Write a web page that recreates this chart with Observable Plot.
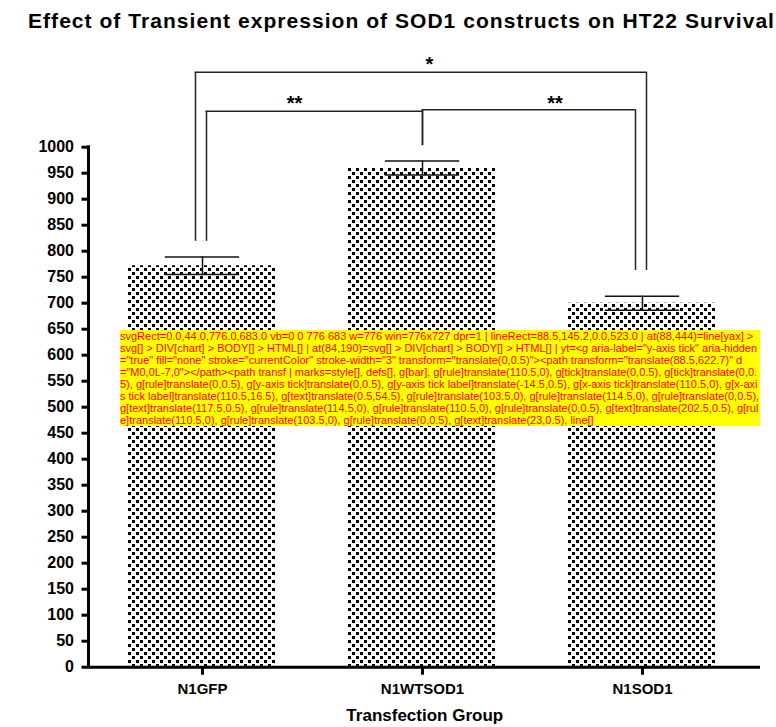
<!DOCTYPE html>
<html><head><meta charset="utf-8">
<script src="https://cdn.jsdelivr.net/npm/d3@7"></script>
<script src="https://cdn.jsdelivr.net/npm/@observablehq/plot@0.6"></script>
<style>
html,body{margin:0;background:#fff;font-family:"Liberation Sans",Arial,sans-serif;overflow:hidden;}
#title{height:44px;position:relative;overflow:hidden;width:776px;}
#title span{position:absolute;left:28px;top:11px;font-weight:bold;font-size:21px;line-height:20px;white-space:nowrap;color:#000;}
#chart{position:relative;}
#chart svg{display:block;max-width:none !important;}
#dbg{position:absolute;left:120px;top:330px;width:640px;font-size:11px;color:red;background:#ff0;word-break:break-all;z-index:10;}
</style></head><body>
<div id="title"><span id="tt">Effect of Transient expression of SOD1 constructs on HT22 Survival</span></div>
<div id="chart"></div>
<div id="dbg"></div>
<script>
const groups = ["N1GFP", "N1WTSOD1", "N1SOD1"];
const means = [772, 960, 700];
const sems = [17, 13.5, 13.5];
const yTicks = d3.range(0, 1001, 50);
const bracketFrom = ["N1GFP", "N1GFP", "N1WTSOD1"];
const bracketTo = ["N1SOD1", "N1WTSOD1", "N1SOD1"];
const bracketTop = [1144, 1069, 1072];
const bracketLeftEnd = [819, 819, 1003];
const bracketRightEnd = [763, 1003, 763];
const bracketLabels = ["*", "**", "**"];
const bracketLabelY = [1158, 1084, 1084];
const bracketLabelAt = ["N1WTSOD1", "N1GFP", "N1SOD1"];
const data = groups.map((g, i) => ({group: g, mean: means[i], lo: means[i] - sems[i], hi: means[i] + sems[i]}));
const brackets = bracketFrom.map((f, i) => ({from: f, to: bracketTo[i], top: bracketTop[i], l: bracketLeftEnd[i], r: bracketRightEnd[i], label: bracketLabels[i], ly: bracketLabelY[i], at: bracketLabelAt[i]}));
const tt = document.getElementById("tt");
const tw = tt.getBoundingClientRect().width;
tt.style.letterSpacing = ((747 - tw) / tt.textContent.length) + "px";
const W = 776, H = 683;
const mL = 88.5;
const xRange = [91, 753];
const half = (xRange[1] - xRange[0]) / groups.length / 2;
const legDx = [[-7, 4], [4, 0], [0, -7]];
const labelDx = [7, 92, -87.5];
const font = "'Liberation Sans', Arial, sans-serif";
const marks = [
  () => {
    const defs = d3.create("svg:defs");
    const p = defs.append("pattern").attr("id", "dots").attr("patternUnits", "userSpaceOnUse").attr("width", 8).attr("height", 8);
    p.append("rect").attr("width", 8).attr("height", 8).attr("fill", "#fff");
    p.append("rect").attr("x", 0).attr("y", 0).attr("width", 3).attr("height", 3).attr("fill", "#000");
    p.append("rect").attr("x", 4).attr("y", 4).attr("width", 3).attr("height", 3).attr("fill", "#000");
    return defs.node();
  },
  Plot.barY(data, {x: "group", y: "mean", fill: "url(#dots)", insetLeft: 36, insetRight: 36}),
  Plot.ruleX(data, {x: "group", y1: "lo", y2: "hi", stroke: "#111", strokeWidth: 1.5}),
  Plot.tickY(data, {x: "group", y: "lo", stroke: "#111", strokeWidth: 1.5, insetLeft: half - 37.5, insetRight: half - 37.5}),
  Plot.tickY(data, {x: "group", y: "hi", stroke: "#111", strokeWidth: 1.5, insetLeft: half - 37.5, insetRight: half - 37.5}),
  Plot.ruleY([0], {stroke: "#000", strokeWidth: 3}),
  Plot.axisY({ticks: yTicks, tickSize: 7, tickPadding: 8, strokeWidth: 3, fontSize: 16, fontWeight: "bold", tickFormat: d3.format("d"), label: null, fill: "#000"}),
  Plot.axisX({tickSize: 8, tickPadding: 8, strokeWidth: 3, fontSize: 15, fontWeight: "bold", label: null, fill: "#000"}),
  Plot.text(["Transfection Group"], {frameAnchor: "bottom", dy: 54, fontSize: 17, fontWeight: "bold", fill: "#000"})
];
brackets.forEach((b, i) => {
  const [ldx, rdx] = legDx[i];
  marks.push(
    Plot.ruleX([b], {x: "from", y1: "l", y2: "top", dx: ldx, stroke: "#222", strokeWidth: 1.5}),
    Plot.ruleX([b], {x: "to", y1: "r", y2: "top", dx: rdx, stroke: "#222", strokeWidth: 1.5}),
    Plot.ruleY([b], {x1: "from", x2: "to", y: "top", insetLeft: half + ldx - 0.75, insetRight: half - rdx - 0.75, stroke: "#222", strokeWidth: 1.5}),
    Plot.text([b], {x: "at", y: "ly", text: "label", dx: labelDx[i], fontSize: 20, fontWeight: "bold", fill: "#000"})
  );
});
let msg = "";
try {
const chart = Plot.plot({
  width: W, height: H,
  marginLeft: mL, marginRight: 16, marginTop: 102.7, marginBottom: 60.3,
  style: {fontFamily: font, background: "#fff", color: "#000", overflow: "visible"},
  x: {domain: groups, range: xRange, padding: 0, label: null},
  y: {domain: [0, 1000], label: null},
  marks
});
chart.style.maxWidth = "none";
document.getElementById("chart").appendChild(chart);
const sel = d3.select(chart);
const ys = chart.scale("y");
const yTop = ys.apply(1000) - 1.5, yBot = ys.apply(0) + 1.5;
sel.append("line").attr("id", "yax").attr("x1", mL).attr("x2", mL).attr("y1", yTop).attr("y2", yBot)
  .attr("stroke", "#000").attr("stroke-width", 3);
const r = chart.getBoundingClientRect();
msg += "svgRect=" + [r.x, r.y, r.width, r.height].map(v => v.toFixed(1)).join(",");
msg += " vb=" + chart.getAttribute("viewBox") + " w=" + chart.getAttribute("width");
msg += " win=" + innerWidth + "x" + innerHeight + " dpr=" + devicePixelRatio;
const lr = document.getElementById("yax").getBoundingClientRect();
msg += " | lineRect=" + [lr.x, lr.y, lr.width, lr.height].map(v => v.toFixed(1)).join(",");
msg += " | at(88,444)=" + document.elementsFromPoint(88, 444).map(e => e.tagName + "[" + (e.getAttribute("aria-label")||e.id||"") + "]").join(" > ");
msg += " | at(84,190)=" + document.elementsFromPoint(84, 190).map(e => e.tagName + "[" + (e.getAttribute("aria-label")||e.id||"") + "]").join(" > ");
const yt = sel.select('g[aria-label="y-axis tick"]').node();
msg += " | yt=" + (yt ? yt.outerHTML.slice(0, 200) : "none");
msg += " | marks=" + Array.from(chart.children).map(c => c.tagName + "[" + (c.getAttribute("aria-label")||"") + "]" + (c.getAttribute("transform")||"")).join(", ");
} catch (e) { msg += " ERR " + e.message; }
document.getElementById("dbg").textContent = msg;
</script>
</body></html>
